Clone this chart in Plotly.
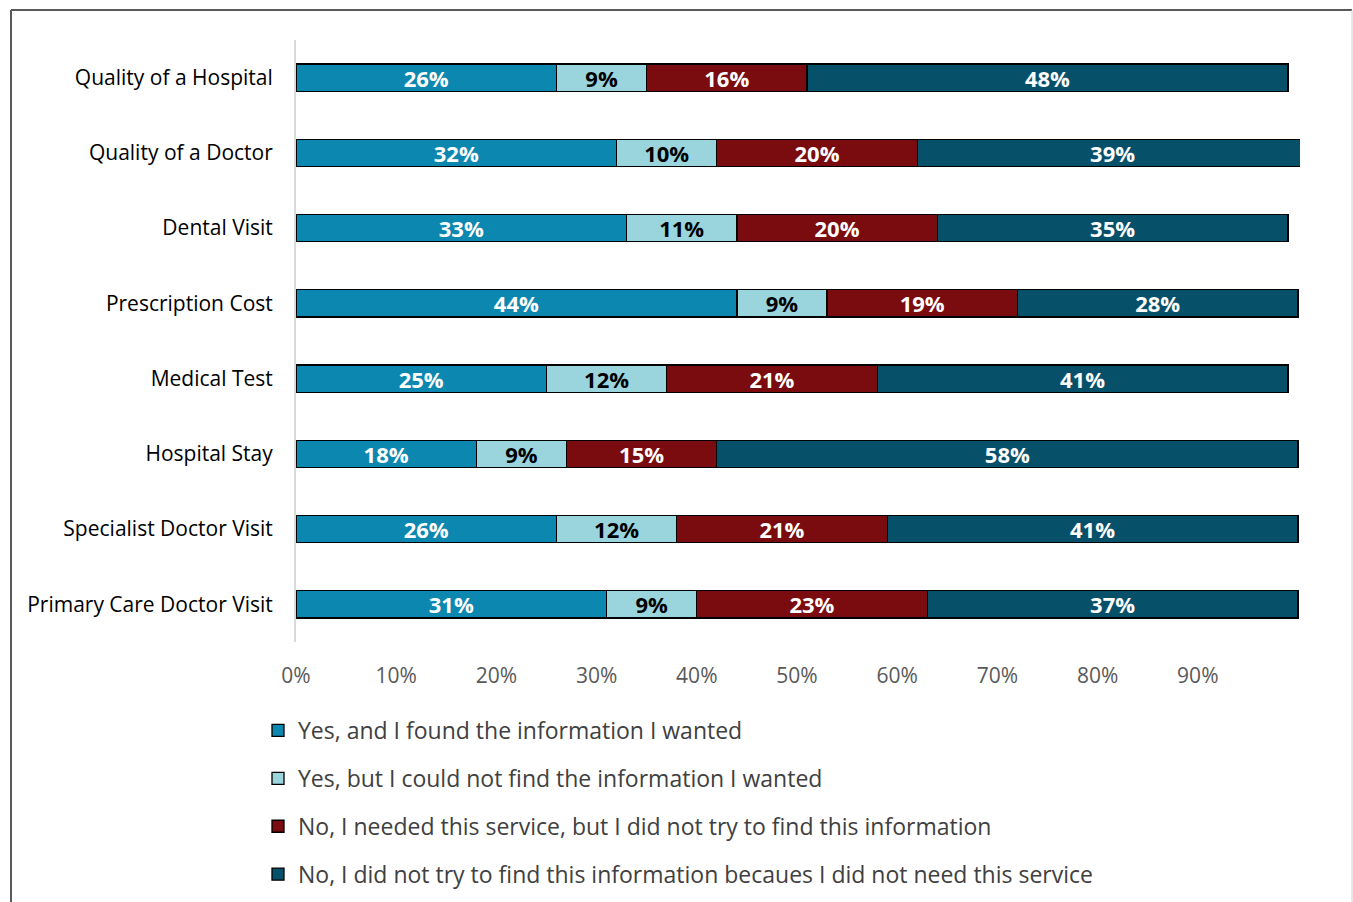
import plotly.graph_objects as go

categories = ["Quality of a Hospital", "Quality of a Doctor", "Dental Visit", "Prescription Cost",
              "Medical Test", "Hospital Stay", "Specialist Doctor Visit", "Primary Care Doctor Visit"]
found = [26, 32, 33, 44, 25, 18, 26, 31]
not_found = [9, 10, 11, 9, 12, 9, 12, 9]
no_needed = [16, 20, 20, 19, 21, 15, 21, 23]
no_not_needed = [48, 39, 35, 28, 41, 58, 41, 37]

series_names = ["Yes, and I found the information I wanted",
                "Yes, but I could not find the information I wanted",
                "No, I needed this service, but I did not try to find this information",
                "No, I did not try to find this information becaues I did not need this service"]
series_values = [found, not_found, no_needed, no_not_needed]
colors = ["#0B87B0", "#9AD5DE", "#7A0B0F", "#07506A"]
text_colors = ["white", "black", "white", "white"]

tick_vals = [0, 10, 20, 30, 40, 50, 60, 70, 80, 90]
tick_text = ["0%", "10%", "20%", "30%", "40%", "50%", "60%", "70%", "80%", "90%"]

FONT = "Open Sans"

fig = go.Figure()
for i, (name, vals) in enumerate(zip(series_names, series_values)):
    fig.add_trace(go.Bar(
        y=categories, x=vals, name=name, orientation="h",
        marker=dict(color=colors[i], line=dict(color="black", width=1.3)),
        width=0.36,
        text=[f"{v}%" for v in vals], textposition="inside", insidetextanchor="middle",
        textangle=0, constraintext="none",
        textfont=dict(family=FONT, size=22, color=text_colors[i], weight="bold"),
        legendgroup=f"g{i}",
    ))

W0, W1 = 296, 1300
T0, T1 = 40, 642
pw, ph = W1 - W0, T1 - T0

def px(x):
    return (x - W0) / pw

def py(y):
    return (T1 - y) / ph

fig.update_layout(
    width=1353, height=902, barmode="stack",
    margin=dict(l=W0, r=1353 - W1, t=T0, b=902 - T1, autoexpand=False),
    paper_bgcolor="white", plot_bgcolor="white",
    font=dict(family=FONT, size=20, color="black"),
    legend=dict(orientation="v", x=px(258), y=py(709), xanchor="left", yanchor="top",
                font=dict(family=FONT, size=23, color="#404040"), tracegroupgap=15,
                itemwidth=30, bgcolor="rgba(0,0,0,0)", traceorder="grouped"),
    showlegend=True,
    xaxis=dict(range=[0, 100.2], tickvals=tick_vals, ticktext=tick_text, showgrid=False,
               zeroline=False, showline=False, ticks="", ticklabelstandoff=19,
               tickfont=dict(family=FONT, size=21, color="#595959"), fixedrange=True),
    yaxis=dict(categoryorder="array", categoryarray=categories[::-1], showgrid=False,
               showline=True, linecolor="#D9D9D9", linewidth=2, ticks="",
               ticklabelstandoff=17, tickfont=dict(family=FONT, size=21, color="black"),
               fixedrange=True),
)

# outer frame of the chart area
fig.add_shape(type="line", xref="paper", yref="paper", x0=px(11), x1=px(1352), y0=py(10), y1=py(10),
              line=dict(color="#595959", width=2))
fig.add_shape(type="line", xref="paper", yref="paper", x0=px(11), x1=px(11), y0=py(10), y1=py(905),
              line=dict(color="#595959", width=2))
fig.add_shape(type="line", xref="paper", yref="paper", x0=px(1352), x1=px(1352), y0=py(10), y1=py(905),
              line=dict(color="#D0D0D0", width=1))

fig.write_html("out.html")
